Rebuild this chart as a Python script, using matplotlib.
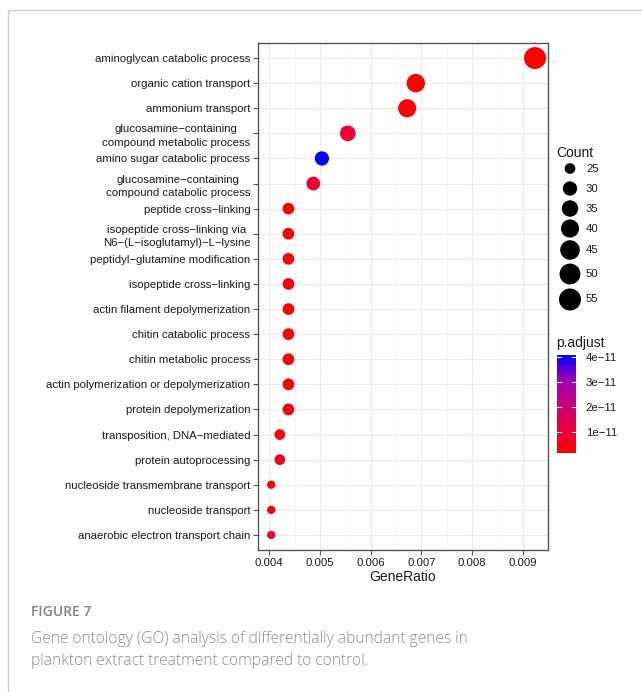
import matplotlib
matplotlib.use("Agg")
import matplotlib.pyplot as plt
import numpy as np
from matplotlib.colors import LinearSegmentedColormap, Normalize

# GO terms, top to bottom
terms = [
    "aminoglycan catabolic process",
    "organic cation transport",
    "ammonium transport",
    "glucosamine\u2212containing\ncompound metabolic process",
    "amino sugar catabolic process",
    "glucosamine\u2212containing\ncompound catabolic process",
    "peptide cross\u2212linking",
    "isopeptide cross\u2212linking via\nN6\u2212(L\u2212isoglutamyl)\u2212L\u2212lysine",
    "peptidyl\u2212glutamine modification",
    "isopeptide cross\u2212linking",
    "actin filament depolymerization",
    "chitin catabolic process",
    "chitin metabolic process",
    "actin polymerization or depolymerization",
    "protein depolymerization",
    "transposition, DNA\u2212mediated",
    "protein autoprocessing",
    "nucleoside transmembrane transport",
    "nucleoside transport",
    "anaerobic electron transport chain",
]
gene_ratio = [0.00924, 0.00689, 0.00672, 0.00555, 0.00504, 0.00487,
              0.00438, 0.00438, 0.00438, 0.00438, 0.00438, 0.00438,
              0.00438, 0.00438, 0.00438, 0.00421, 0.00421,
              0.00404, 0.00404, 0.00404]
counts = [55, 41, 40, 33, 30, 29, 26, 26, 26, 26, 26, 26, 26, 26, 26,
          25, 25, 24, 24, 24]
p_adjust = [1.5e-12, 1.5e-12, 2.0e-12, 9.0e-12, 4.1e-11, 1.0e-11,
            1.5e-12, 3.0e-12, 3.0e-12, 3.0e-12, 3.0e-12, 3.0e-12,
            3.0e-12, 3.5e-12, 5.0e-12, 2.0e-12, 7.0e-12,
            1.5e-12, 1.5e-12, 9.0e-12]

legend_counts = [25, 30, 35, 40, 45, 50, 55]
cbar_ticks = [1e-11, 2e-11, 3e-11, 4e-11]
cbar_labels = ["1e\u221211", "2e\u221211", "3e\u221211", "4e\u221211"]

W, H = 642, 692
DPI = 100
label_font = ["Liberation Sans", "DejaVu Sans"]
small = 8.2

cmap = LinearSegmentedColormap.from_list(
    "redblue", [(0.0, "#FF0000"), (0.25, "#E60044"), (0.5, "#C8007C"),
                (0.75, "#9A00B6"), (1.0, "#0000FF")])
norm = Normalize(vmin=min(p_adjust), vmax=max(p_adjust))

cmin, cmax = min(counts), max(counts)


def marker_area(c):
    # diameter in px scales like ggplot's area palette, range 3..8
    c = np.asarray(c, dtype=float)
    d = 22.0 / 8.0 * (3 + 5 * np.sqrt((c - cmin) / (cmax - cmin)))
    return (d * 72.0 / DPI) ** 2


fig = plt.figure(figsize=(W / DPI, H / DPI), dpi=DPI)


def fx(px):
    return px / W


def fy(py):
    return 1 - py / H


# main dot plot
ax = fig.add_axes([fx(258), fy(550), (548 - 258) / W, (550 - 43) / H])
ypos = np.arange(len(terms))
ax.scatter(gene_ratio, ypos, s=marker_area(counts), c=p_adjust,
           cmap=cmap, norm=norm, edgecolors="none", zorder=3)
ax.set_ylim(len(terms) - 0.4, -0.6)
ax.set_xlim(0.00378, 0.009496)
ax.set_yticks(ypos)
ax.set_yticklabels(terms, fontfamily=label_font, fontsize=small,
                   color="#1a1a1a", multialignment="center",
                   linespacing=1.4)
ax.set_xticks([0.004, 0.005, 0.006, 0.007, 0.008, 0.009])
ax.set_xticklabels(["0.004", "0.005", "0.006", "0.007", "0.008", "0.009"],
                   fontfamily=label_font, fontsize=small, color="#1a1a1a")
ax.set_xticks([0.0045, 0.0055, 0.0065, 0.0075, 0.0085], minor=True)
ax.grid(True, which="major", color="#EBEBEB", linewidth=0.8, zorder=0)
ax.grid(True, which="minor", axis="x", color="#F3F3F3", linewidth=0.5, zorder=0)
ax.set_axisbelow(True)
ax.tick_params(axis="both", which="major", length=3.5, width=0.8,
               color="#555555", pad=2)
ax.tick_params(axis="x", which="minor", length=0)
for sp in ax.spines.values():
    sp.set_color("#555555")
    sp.set_linewidth(1.0)
ax.set_xlabel("GeneRatio", fontfamily=label_font, fontsize=10,
              color="#1a1a1a", labelpad=2)

# overlay for the legends, frame and caption in pixel coordinates
ov = fig.add_axes([0, 0, 1, 1], zorder=-1)
ov.set_xlim(0, W)
ov.set_ylim(H, 0)
ov.axis("off")

ov.plot([7.5, 7.5], [9.5, H + 5], color="#CCCCCC", lw=1.0,
        solid_capstyle="butt")
ov.plot([7.5, W + 5], [9.5, 9.5], color="#CCCCCC", lw=1.0,
        solid_capstyle="butt")

# size legend
lg = fig.add_axes([0, 0, 1, 1], zorder=2)
lg.set_xlim(0, W)
lg.set_ylim(H, 0)
lg.axis("off")
lg.text(556, 153, "Count", fontfamily=label_font, fontsize=10,
        color="#1a1a1a", va="center", ha="left")
leg_y = [168.5, 188.5, 208.5, 228.5, 250, 274, 299.5]
lg.scatter([570] * len(legend_counts), leg_y, s=marker_area(legend_counts),
           color="black", edgecolors="none")
for yy, c in zip(leg_y, legend_counts):
    lg.text(586, yy, str(c), fontfamily=label_font, fontsize=small,
            color="#1a1a1a", va="center", ha="left")

lg.text(556, 343, "p.adjust", fontfamily=label_font, fontsize=10,
        color="#1a1a1a", va="center", ha="left")

# colour bar
cax = fig.add_axes([fx(557), fy(453), 19 / W, (453 - 355) / H])
grad = np.linspace(norm.vmin, norm.vmax, 256).reshape(-1, 1)
cax.imshow(grad, aspect="auto", cmap=cmap, norm=norm, origin="lower",
           extent=[0, 1, norm.vmin, norm.vmax])
cax.set_xticks([])
cax.set_yticks(cbar_ticks)
cax.yaxis.tick_right()
cax.set_yticklabels(cbar_labels, fontfamily=label_font, fontsize=small,
                    color="#1a1a1a")
cax.tick_params(axis="y", length=0, pad=7)
for t in cbar_ticks:
    cax.plot([0, 0.2], [t, t], color="white", lw=0.8)
    cax.plot([0.8, 1], [t, t], color="white", lw=0.8)
cax.set_xlim(0, 1)
cax.set_ylim(norm.vmin, norm.vmax)
for sp in cax.spines.values():
    sp.set_visible(False)

# caption
cap_font = ["Open Sans", "DejaVu Sans"]
lg.text(31, 612, "FIGURE 7", fontfamily=cap_font, fontsize=10,
        fontweight="semibold", color="#808080", va="center", ha="left")
lg.text(31, 639, "Gene ontology (GO) analysis of differentially abundant genes in",
        fontfamily=cap_font, fontsize=11.2, fontweight="light",
        color="#8a8a8a", va="center", ha="left")
lg.text(31, 661, "plankton extract treatment compared to control.",
        fontfamily=cap_font, fontsize=11.2, fontweight="light",
        color="#8a8a8a", va="center", ha="left")

fig.savefig("out.png", dpi=DPI)
